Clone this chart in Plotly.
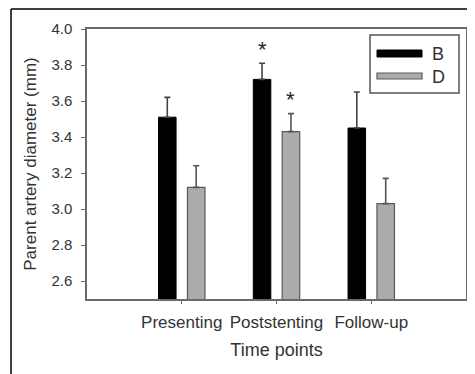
import plotly.graph_objects as go

categories = ["Presenting", "Poststenting", "Follow-up"]
b_values = [3.51, 3.72, 3.45]
b_errors = [0.11, 0.09, 0.20]
d_values = [3.12, 3.43, 3.03]
d_errors = [0.12, 0.10, 0.14]
b_star = [False, True, False]
d_star = [False, True, False]
y_ticks = [2.6, 2.8, 3.0, 3.2, 3.4, 3.6, 3.8, 4.0]

FONT = "Arial, Liberation Sans, Helvetica, sans-serif"
TXT = "#333333"
FRAME = "#6a6a6a"

BW = 0.185
B_OFF = -0.245
D_OFF = 0.06

# page body margin of the html page shifts the figure by 8 px
OFF = 8
W, H = 475 - OFF, 374 - OFF

fig = go.Figure()
fig.add_trace(go.Bar(
    x=categories, y=b_values, name="B", width=BW, offset=B_OFF,
    marker=dict(color="#000000", line=dict(color="#000000", width=1)),
    error_y=dict(type="data", array=b_errors, arrayminus=[0] * 3, symmetric=False,
                 color="#444444", thickness=1.6, width=3),
))
fig.add_trace(go.Bar(
    x=categories, y=d_values, name="D", width=BW, offset=D_OFF,
    marker=dict(color="#ababab", line=dict(color="#5a5a5a", width=1.2)),
    error_y=dict(type="data", array=d_errors, arrayminus=[0] * 3, symmetric=False,
                 color="#555555", thickness=1.6, width=3),
))

# significance stars
for i, (v, e, s) in enumerate(zip(b_values, b_errors, b_star)):
    if s:
        fig.add_annotation(x=i + B_OFF + BW / 2, y=v + e, xref="x", yref="y",
                           text="*", showarrow=False, yshift=14,
                           font=dict(family=FONT, size=22, color="#222222"))
for i, (v, e, s) in enumerate(zip(d_values, d_errors, d_star)):
    if s:
        fig.add_annotation(x=i + D_OFF + BW / 2, y=v + e, xref="x", yref="y",
                           text="*", showarrow=False, yshift=14,
                           font=dict(family=FONT, size=22, color="#222222"))

# target pixel geometry (screen coords) -> figure coords
L, R, T, Bm = 87 - OFF, 466 - OFF, 29 - OFF, 299 - OFF
def px(x):
    return (x - OFF - L) / (R - L)
def py(y):
    return (Bm - (y - OFF)) / (Bm - T)

# legend box
fig.add_shape(type="rect", xref="paper", yref="paper",
              x0=px(370), x1=px(459), y0=py(93), y1=py(35),
              line=dict(color="#555555", width=1.5), fillcolor="white")
fig.add_shape(type="rect", xref="paper", yref="paper",
              x0=px(377), x1=px(422), y0=py(57), y1=py(50),
              line=dict(color="#000000", width=1), fillcolor="#000000")
fig.add_shape(type="rect", xref="paper", yref="paper",
              x0=px(377), x1=px(422), y0=py(79), y1=py(73),
              line=dict(color="#5a5a5a", width=1.2), fillcolor="#ababab")
fig.add_annotation(xref="paper", yref="paper", x=px(430), y=py(54), text="B",
                   showarrow=False, xanchor="left", yanchor="middle",
                   font=dict(family=FONT, size=18, color=TXT))
fig.add_annotation(xref="paper", yref="paper", x=px(430), y=py(77), text="D",
                   showarrow=False, xanchor="left", yanchor="middle",
                   font=dict(family=FONT, size=18, color=TXT))

# outer page frame (top & left edges)
fig.add_shape(type="line", xref="paper", yref="paper",
              x0=px(11), x1=px(480), y0=py(9), y1=py(9),
              line=dict(color="#000000", width=1.5))
fig.add_shape(type="line", xref="paper", yref="paper",
              x0=px(11), x1=px(11), y0=py(9), y1=py(380),
              line=dict(color="#000000", width=1.5))

fig.update_layout(
    width=W, height=H,
    margin=dict(l=L, r=W - R, t=T, b=H - Bm, autoexpand=False),
    paper_bgcolor="white", plot_bgcolor="white",
    showlegend=False,
    font=dict(family=FONT, color=TXT),
    xaxis=dict(
        type="category", range=[-1, 3], automargin=False,
        showline=True, linecolor=FRAME, linewidth=1.5, mirror=True,
        ticks="outside", ticklen=3, tickcolor=FRAME, tickwidth=1,
        tickfont=dict(family=FONT, size=17, color=TXT),
        ticklabelstandoff=4,
        title=dict(text="Time points", font=dict(family=FONT, size=18, color=TXT), standoff=12),
        showgrid=False, zeroline=False,
    ),
    yaxis=dict(
        range=[2.5, 4.0], tickvals=y_ticks, tickformat=".1f", automargin=False,
        showline=True, linecolor=FRAME, linewidth=1.5, mirror=True,
        ticks="outside", ticklen=4, tickcolor=FRAME, tickwidth=1,
        tickfont=dict(family=FONT, size=15, color=TXT),
        ticklabelstandoff=6,
        title=dict(text="Parent artery diameter (mm)", font=dict(family=FONT, size=17, color=TXT), standoff=10),
        showgrid=False, zeroline=False,
    ),
)

fig.write_html("out.html")
